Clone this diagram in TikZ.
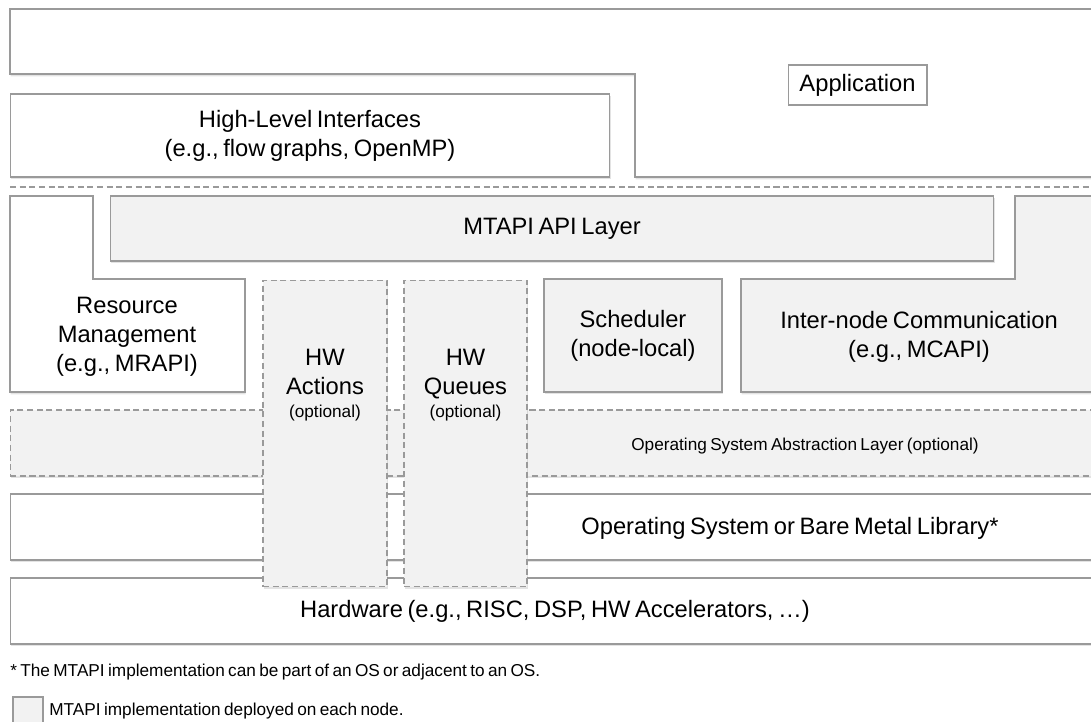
\documentclass[tikz,border=0pt]{standalone}
\usepackage{fontspec}
\setmainfont[WordSpace=0.7]{Liberation Sans}
\usetikzlibrary{shadows}
\definecolor{edgegray}{HTML}{9A9A9A}
\definecolor{implgray}{HTML}{F2F2F2}
\begin{document}
\begin{tikzpicture}[x=0.02cm, y=-0.02cm,
  every node/.style={inner sep=0pt, font=\fontsize{13.5}{16.5}\selectfont},
  layer/.style={draw=edgegray, line width=0.6pt, fill=white,
    drop shadow={shadow xshift=0.4pt, shadow yshift=-1.3pt, opacity=0.22}},
  impl/.style={layer, fill=implgray},
  optional/.style={impl, dash pattern=on 3.5pt off 2pt},
  small/.style={font=\fontsize{9.8}{12}\selectfont}
]
    \useasboundingbox (0,0) rectangle (1091,722);

    % application and high-level interfaces
    \draw[layer] (10,9) -- (1100,9) -- (1100,177) -- (635,177) -- (635,74) -- (10,74) -- cycle;
    \node[draw=edgegray, line width=0.6pt, minimum width=2.78cm, minimum height=0.8cm] (app) at (857.5,85) {Application};
    \node[layer, align=center, minimum width=12cm, minimum height=1.66cm] (hli) at (310,135.5)
      {High-Level Interfaces\\(e.g., flow graphs, OpenMP)};
    \draw[edgegray, line width=0.6pt, dash pattern=on 3.5pt off 2pt] (10,187) -- (1100,187);

    % node-level parts
    \draw[layer] (10,196) -- (93,196) -- (93,279) -- (245,279) -- (245,392) -- (10,392) -- cycle;
    \node[align=center] (res) at (127,337) {Resource\\Management\\(e.g., MRAPI)};
    \node[impl, minimum width=17.68cm, minimum height=1.3cm] (api) at (552,228.5) {MTAPI API Layer};
    \node[impl, align=center, minimum width=3.56cm, minimum height=2.26cm] (sched) at (633,335.5)
      {Scheduler\\(node-local)};
    \draw[impl] (1015,196) -- (1100,196) -- (1100,392) -- (741,392) -- (741,279) -- (1015,279) -- cycle;
    \node[align=center] (comm) at (919,337) {Inter-node Communication\\(e.g., MCAPI)};

    % system layers
    \node[optional, minimum width=21.8cm, minimum height=1.32cm] (osal) at (555,443) {};
    \node[small] (osal-t) at (805,446) {Operating System Abstraction Layer (optional)};
    \node[layer, minimum width=21.8cm, minimum height=1.32cm] (os) at (555,527) {};
    \node (os-t) at (790,528) {Operating System or Bare Metal Library*};
    \node[layer, minimum width=21.8cm, minimum height=1.32cm] (hw) at (555,611)
      {Hardware (e.g., RISC, DSP, HW Accelerators, \dots)};

    % hardware parts
    \node[optional, minimum width=2.48cm, minimum height=6.14cm] (hwact) at (325,433.5) {};
    \node[align=center] (hwact-t) at (325,385) {HW\\Actions\\[-3pt]{\fontsize{9.8}{12}\selectfont(optional)}};
    \node[optional, minimum width=2.46cm, minimum height=6.14cm] (hwq) at (465.5,433.5) {};
    \node[align=center] (hwq-t) at (465.5,385) {HW\\Queues\\[-3pt]{\fontsize{9.8}{12}\selectfont(optional)}};

    % notes
    \node[small, anchor=west] (note) at (10,672)
      {* The MTAPI implementation can be part of an OS or adjacent to an OS.};
    \node[draw=edgegray, line width=0.6pt, fill=implgray, minimum width=0.6cm, minimum height=0.56cm] (key) at (28,711) {};
    \node[small, anchor=west] (key-t) at (49,711) {MTAPI implementation deployed on each node.};
\end{tikzpicture}
\end{document}
